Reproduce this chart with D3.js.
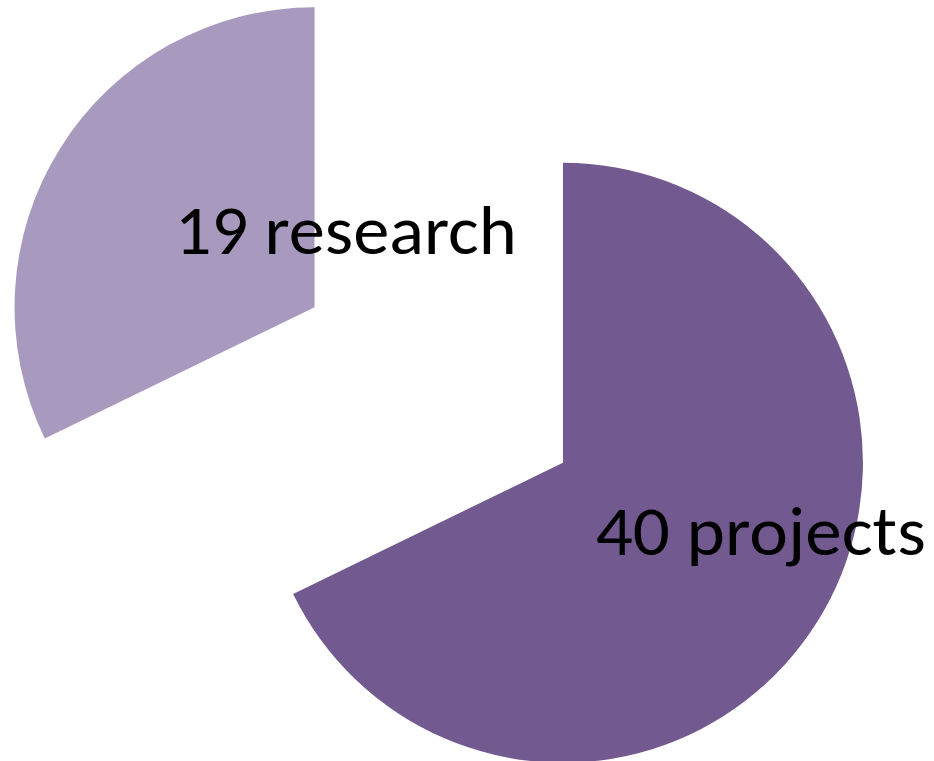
<!DOCTYPE html>
<html>
<head>
<meta charset="utf-8">
<script src="https://cdn.jsdelivr.net/npm/d3@7"></script>
<style>
  html, body { margin: 0; padding: 0; background: #fff; overflow: hidden; }
  text { font-family: Calibri, Carlito, "Open Sans", sans-serif; }
</style>
</head>
<body>
<svg id="chart" width="934" height="761"></svg>
<script>
// chart data
var categories = ["projects", "research"];
var values = [40, 19];
var colors = ["#72598f", "#a89abe"];

// layout
var width = 934, height = 761;
var cx = 438.75, cy = 385;
var radius = 300;
var explode = 146.5;
// label centres, relative to the pie centre (as placed in the original)
var labelPos = [[322, 146], [-93, -155]];

var svg = d3.select("#chart");

var pie = d3.pie().sort(null).value(function (d) { return d; });
var arc = d3.arc().innerRadius(0).outerRadius(radius);

var slices = pie(values);

var g = svg.append("g").attr("transform", "translate(" + cx + "," + cy + ")");

g.selectAll("path.slice")
  .data(slices)
  .enter().append("path")
  .attr("class", "slice")
  .attr("fill", function (d, i) { return colors[i]; })
  .attr("d", arc)
  .attr("transform", function (d) {
    var mid = (d.startAngle + d.endAngle) / 2;
    return "translate(" + (Math.sin(mid) * explode) + "," + (-Math.cos(mid) * explode) + ")";
  });

g.selectAll("text.label")
  .data(slices)
  .enter().append("text")
  .attr("class", "label")
  .attr("x", function (d, i) { return labelPos[i][0]; })
  .attr("y", function (d, i) { return labelPos[i][1]; })
  .attr("dy", "0.35em")
  .attr("text-anchor", "middle")
  .attr("font-size", 69)
  .attr("fill", "#000")
  .text(function (d, i) { return d.value + " " + categories[i]; })
  .attr("textLength", function (d, i) { return i === 0 ? 330 : 342; })
  .attr("lengthAdjust", "spacingAndGlyphs");
</script>
</body>
</html>
